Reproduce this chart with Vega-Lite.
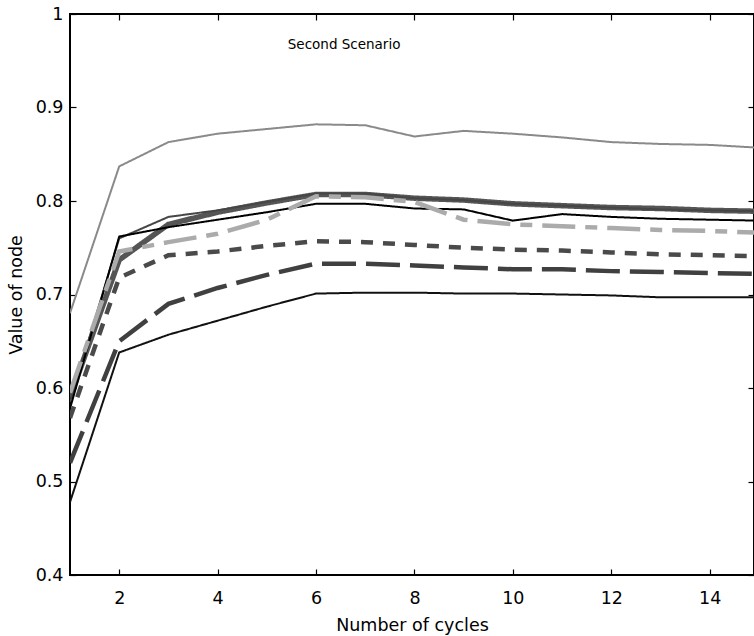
{
  "$schema": "https://vega.github.io/schema/vega-lite/v6.json",
  "width": 684,
  "height": 561,
  "autosize": {"type": "none"},
  "padding": {"left": 70, "top": 14, "right": 0, "bottom": 61},
  "background": "white",
  "config": {
    "view": {"stroke": "black", "strokeWidth": 2},
    "font": "DejaVu Sans",
    "axis": {
      "domain": false,
      "grid": false,
      "tickColor": "black",
      "tickSize": -6,
      "tickWidth": 1.2,
      "labelColor": "black",
      "labelFont": "DejaVu Sans",
      "labelFontSize": 17.5,
      "titleFont": "DejaVu Sans",
      "titleFontSize": 17.5,
      "titleFontWeight": "normal",
      "titleColor": "black"
    }
  },
  "datasets": {
    "lines": [
      {"s": "s2", "x": 1, "y": 0.590}, {"s": "s2", "x": 2, "y": 0.737}, {"s": "s2", "x": 3, "y": 0.775}, {"s": "s2", "x": 4, "y": 0.788}, {"s": "s2", "x": 5, "y": 0.798}, {"s": "s2", "x": 6, "y": 0.807}, {"s": "s2", "x": 7, "y": 0.807}, {"s": "s2", "x": 8, "y": 0.803}, {"s": "s2", "x": 9, "y": 0.801}, {"s": "s2", "x": 10, "y": 0.797}, {"s": "s2", "x": 11, "y": 0.795}, {"s": "s2", "x": 12, "y": 0.793}, {"s": "s2", "x": 13, "y": 0.792}, {"s": "s2", "x": 14, "y": 0.790}, {"s": "s2", "x": 15, "y": 0.789},
      {"s": "s3", "x": 1, "y": 0.585}, {"s": "s3", "x": 2, "y": 0.760}, {"s": "s3", "x": 3, "y": 0.783}, {"s": "s3", "x": 4, "y": 0.790}, {"s": "s3", "x": 5, "y": 0.799}, {"s": "s3", "x": 6, "y": 0.808}, {"s": "s3", "x": 7, "y": 0.808}, {"s": "s3", "x": 8, "y": 0.803}, {"s": "s3", "x": 9, "y": 0.801}, {"s": "s3", "x": 10, "y": 0.797}, {"s": "s3", "x": 11, "y": 0.795}, {"s": "s3", "x": 12, "y": 0.793}, {"s": "s3", "x": 13, "y": 0.791}, {"s": "s3", "x": 14, "y": 0.790}, {"s": "s3", "x": 15, "y": 0.789},
      {"s": "s4", "x": 1, "y": 0.578}, {"s": "s4", "x": 2, "y": 0.762}, {"s": "s4", "x": 3, "y": 0.772}, {"s": "s4", "x": 4, "y": 0.780}, {"s": "s4", "x": 5, "y": 0.788}, {"s": "s4", "x": 6, "y": 0.797}, {"s": "s4", "x": 7, "y": 0.797}, {"s": "s4", "x": 8, "y": 0.792}, {"s": "s4", "x": 9, "y": 0.791}, {"s": "s4", "x": 10, "y": 0.779}, {"s": "s4", "x": 11, "y": 0.786}, {"s": "s4", "x": 12, "y": 0.783}, {"s": "s4", "x": 13, "y": 0.781}, {"s": "s4", "x": 14, "y": 0.780}, {"s": "s4", "x": 15, "y": 0.779},
      {"s": "s5", "x": 1, "y": 0.595}, {"s": "s5", "x": 2, "y": 0.746}, {"s": "s5", "x": 3, "y": 0.756}, {"s": "s5", "x": 4, "y": 0.765}, {"s": "s5", "x": 5, "y": 0.780}, {"s": "s5", "x": 6, "y": 0.805}, {"s": "s5", "x": 7, "y": 0.804}, {"s": "s5", "x": 8, "y": 0.799}, {"s": "s5", "x": 9, "y": 0.780}, {"s": "s5", "x": 10, "y": 0.775}, {"s": "s5", "x": 11, "y": 0.773}, {"s": "s5", "x": 12, "y": 0.771}, {"s": "s5", "x": 13, "y": 0.769}, {"s": "s5", "x": 14, "y": 0.768}, {"s": "s5", "x": 15, "y": 0.766},
      {"s": "s1", "x": 1, "y": 0.680}, {"s": "s1", "x": 2, "y": 0.837}, {"s": "s1", "x": 3, "y": 0.863}, {"s": "s1", "x": 4, "y": 0.872}, {"s": "s1", "x": 5, "y": 0.877}, {"s": "s1", "x": 6, "y": 0.882}, {"s": "s1", "x": 7, "y": 0.881}, {"s": "s1", "x": 8, "y": 0.869}, {"s": "s1", "x": 9, "y": 0.875}, {"s": "s1", "x": 10, "y": 0.872}, {"s": "s1", "x": 11, "y": 0.868}, {"s": "s1", "x": 12, "y": 0.863}, {"s": "s1", "x": 13, "y": 0.861}, {"s": "s1", "x": 14, "y": 0.860}, {"s": "s1", "x": 15, "y": 0.857},
      {"s": "s6", "x": 1, "y": 0.568}, {"s": "s6", "x": 2, "y": 0.718}, {"s": "s6", "x": 3, "y": 0.742}, {"s": "s6", "x": 4, "y": 0.746}, {"s": "s6", "x": 5, "y": 0.752}, {"s": "s6", "x": 6, "y": 0.757}, {"s": "s6", "x": 7, "y": 0.756}, {"s": "s6", "x": 8, "y": 0.753}, {"s": "s6", "x": 9, "y": 0.750}, {"s": "s6", "x": 10, "y": 0.748}, {"s": "s6", "x": 11, "y": 0.747}, {"s": "s6", "x": 12, "y": 0.745}, {"s": "s6", "x": 13, "y": 0.743}, {"s": "s6", "x": 14, "y": 0.742}, {"s": "s6", "x": 15, "y": 0.741},
      {"s": "s7", "x": 1, "y": 0.520}, {"s": "s7", "x": 2, "y": 0.650}, {"s": "s7", "x": 3, "y": 0.690}, {"s": "s7", "x": 4, "y": 0.707}, {"s": "s7", "x": 5, "y": 0.721}, {"s": "s7", "x": 6, "y": 0.733}, {"s": "s7", "x": 7, "y": 0.733}, {"s": "s7", "x": 8, "y": 0.731}, {"s": "s7", "x": 9, "y": 0.729}, {"s": "s7", "x": 10, "y": 0.727}, {"s": "s7", "x": 11, "y": 0.727}, {"s": "s7", "x": 12, "y": 0.725}, {"s": "s7", "x": 13, "y": 0.724}, {"s": "s7", "x": 14, "y": 0.723}, {"s": "s7", "x": 15, "y": 0.722},
      {"s": "s8", "x": 1, "y": 0.478}, {"s": "s8", "x": 2, "y": 0.638}, {"s": "s8", "x": 3, "y": 0.657}, {"s": "s8", "x": 4, "y": 0.672}, {"s": "s8", "x": 5, "y": 0.687}, {"s": "s8", "x": 6, "y": 0.701}, {"s": "s8", "x": 7, "y": 0.702}, {"s": "s8", "x": 8, "y": 0.702}, {"s": "s8", "x": 9, "y": 0.701}, {"s": "s8", "x": 10, "y": 0.701}, {"s": "s8", "x": 11, "y": 0.700}, {"s": "s8", "x": 12, "y": 0.699}, {"s": "s8", "x": 13, "y": 0.697}, {"s": "s8", "x": 14, "y": 0.697}, {"s": "s8", "x": 15, "y": 0.697}
    ]
  },
  "layer": [
    {
      "data": {"name": "lines"},
      "mark": {"type": "line", "clip": true, "strokeCap": "butt", "strokeJoin": "miter"},
      "encoding": {
        "x": {
          "field": "x", "type": "quantitative",
          "scale": {"domain": [1, 14.9], "nice": false, "zero": false},
          "axis": {"orient": "bottom", "values": [2, 4, 6, 8, 10, 12, 14], "title": "Number of cycles", "labelPadding": 20, "titlePadding": 10, "labelFlush": false, "labelFontSize": 17.5, "titleFontSize": 17.5, "labelFont": "DejaVu Sans", "titleFont": "DejaVu Sans"}
        },
        "y": {
          "field": "y", "type": "quantitative",
          "scale": {"domain": [0.4, 1], "nice": false, "zero": false},
          "axis": {"orient": "left", "values": [0.4, 0.5, 0.6, 0.7, 0.8, 0.9, 1], "labelExpr": "format(datum.value, '~g')", "title": "Value of node", "labelPadding": 13, "titlePadding": 10, "labelFontSize": 17.5, "titleFontSize": 17.5, "labelFont": "DejaVu Sans", "titleFont": "DejaVu Sans"}
        },
        "detail": {"field": "s"},
        "color": {
          "field": "s", "type": "nominal", "legend": null, "sort": null,
          "scale": {"domain": ["s2", "s3", "s4", "s5", "s1", "s6", "s7", "s8"], "range": ["#555555", "#464646", "#000000", "#ababab", "#8a8a8a", "#4a4a4a", "#404040", "#111111"]}
        },
        "strokeWidth": {
          "field": "s", "type": "nominal", "legend": null,
          "scale": {"type": "ordinal", "domain": ["s2", "s3", "s4", "s5", "s1", "s6", "s7", "s8"], "range": [5.5, 2, 2, 4.5, 2, 4.5, 4.5, 2]}
        },
        "strokeDash": {
          "field": "s", "type": "nominal", "legend": null,
          "scale": {"domain": ["s2", "s3", "s4", "s5", "s1", "s6", "s7", "s8"], "range": [[1, 0], [1, 0], [1, 0], [33, 10, 12, 10], [1, 0], [12, 10], [34, 10], [1, 0]]}
        }
      }
    },
    {
      "data": {"values": [{"label": "Second Scenario"}]},
      "mark": {"type": "text", "font": "DejaVu Sans", "fontSize": 13.5, "align": "center", "baseline": "middle", "color": "black"},
      "encoding": {
        "text": {"field": "label"},
        "x": {"datum": 6.57, "type": "quantitative", "axis": {"orient": "top", "values": [2, 4, 6, 8, 10, 12, 14], "labels": false, "title": null}},
        "y": {"datum": 0.967, "type": "quantitative", "axis": {"orient": "right", "values": [0.4, 0.5, 0.6, 0.7, 0.8, 0.9, 1], "labels": false, "title": null}}
      }
    }
  ],
  "resolve": {"axis": {"x": "independent", "y": "independent"}}
}
